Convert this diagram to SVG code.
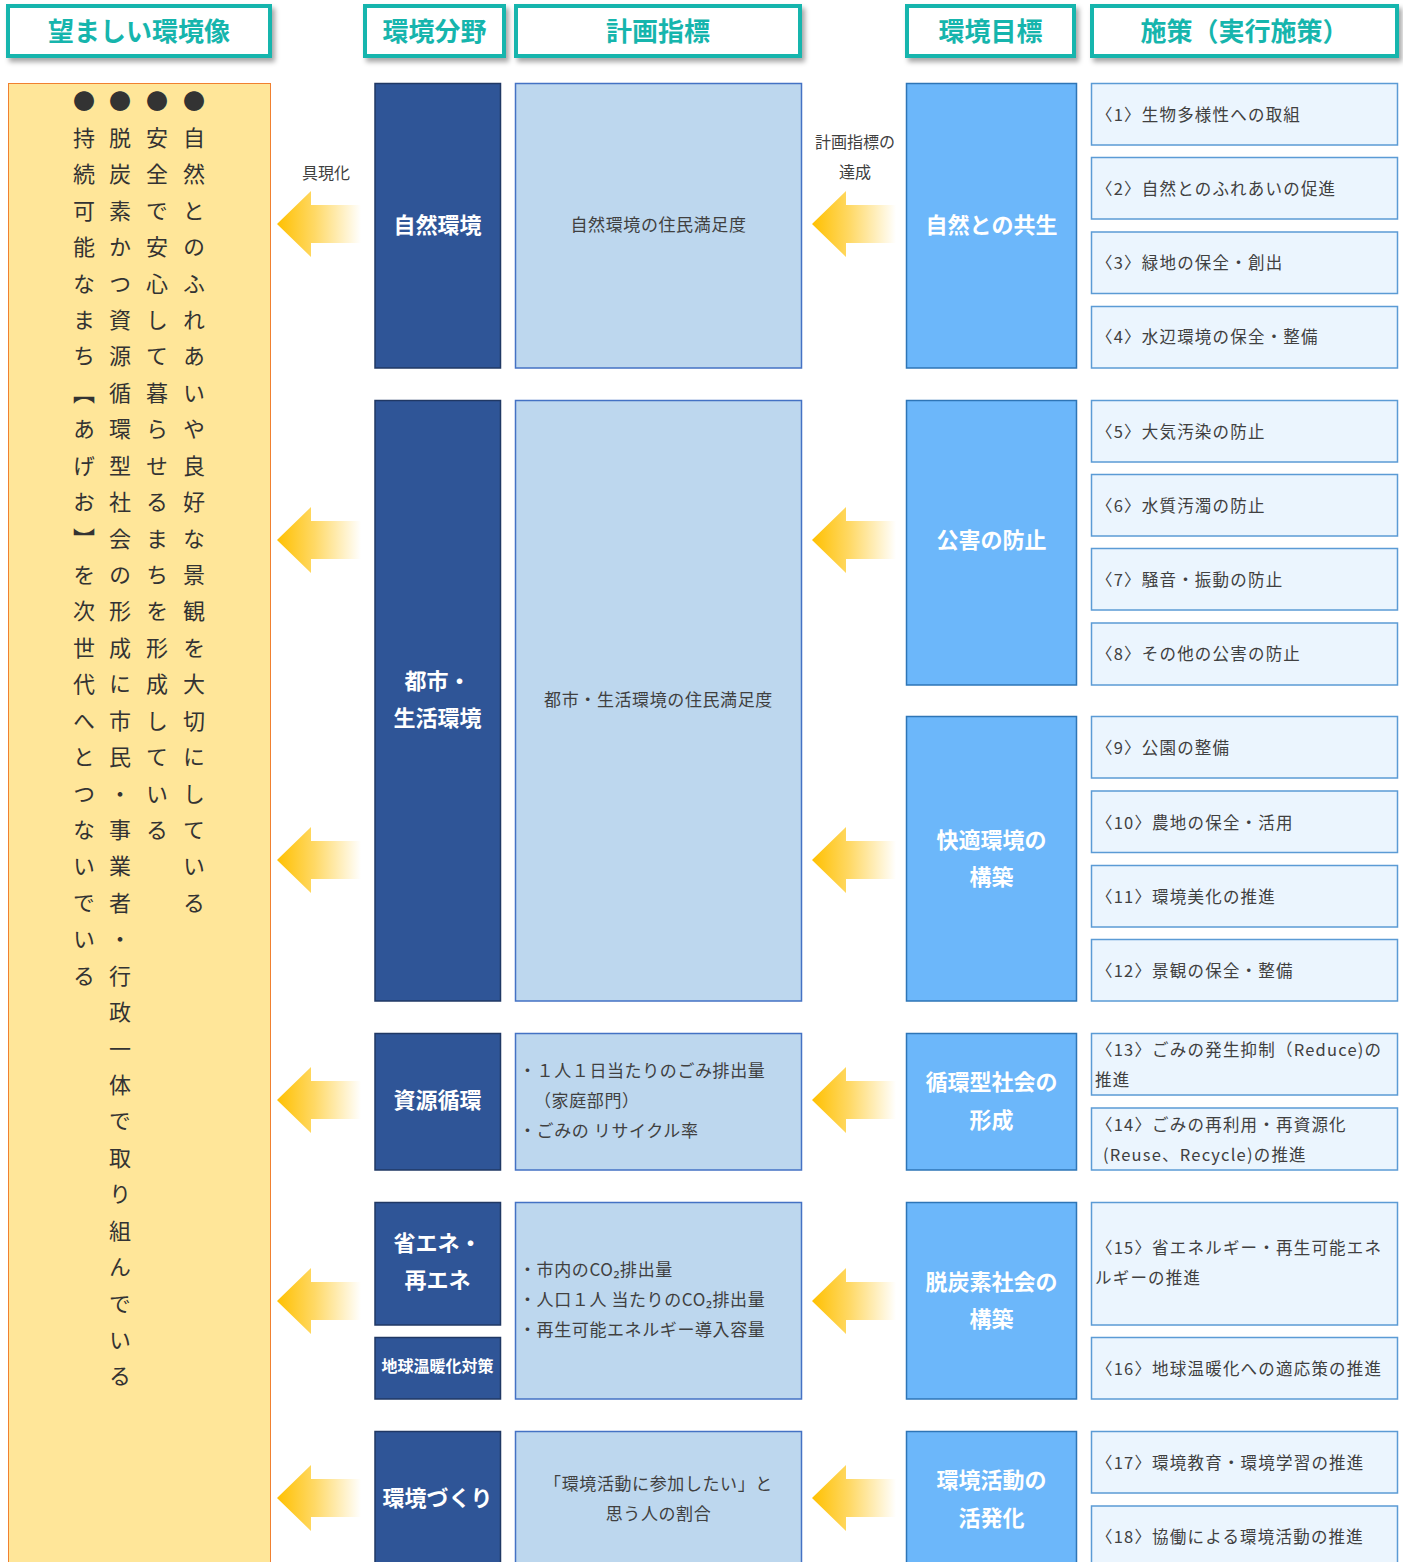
<svg xmlns="http://www.w3.org/2000/svg" width="1403" height="1562" viewBox="0 0 1403 1562">
<defs>
<filter id="sh" x="-10%" y="-20%" width="130%" height="170%">
<feDropShadow dx="3" dy="4" stdDeviation="2.5" flood-color="#000" flood-opacity="0.35"/>
</filter>
<linearGradient id="ag" x1="0" y1="0" x2="1" y2="0">
<stop offset="0" stop-color="#FFC000"/>
<stop offset="0.45" stop-color="#FFD966"/>
<stop offset="1" stop-color="#FFFFFF"/>
</linearGradient>
<path id="arrow" d="M0,0 L34,-33 L34,-19 L84,-19 L84,19 L34,19 L34,33 Z" fill="url(#ag)"/>
</defs>
<style>
text{font-family:"Noto Sans CJK JP","Noto Sans",sans-serif;dominant-baseline:central;}
.hd{fill:#fff;stroke:#16B5AD;stroke-width:4;filter:url(#sh);}
.ht{fill:#16B5AD;font-size:26px;font-weight:bold;text-anchor:middle;}
.c2{fill:#2F5597;stroke:#203864;stroke-width:1.5;}
.c2t{fill:#fff;font-size:22px;font-weight:bold;text-anchor:middle;}
.c3{fill:#BDD7EE;stroke:#4472C4;stroke-width:1.5;}
.c3t{fill:#404040;font-size:17px;letter-spacing:0.6px;}
.mid{text-anchor:middle;}
.c4{fill:#6CB7FA;stroke:#2E75B6;stroke-width:1.5;}
.c4t{fill:#fff;font-size:22px;font-weight:bold;text-anchor:middle;}
.c5{fill:#EBF5FE;stroke:#5B9BD5;stroke-width:1.5;}
.c5t{fill:#404040;font-size:16.5px;letter-spacing:1.2px;}
.lbl{fill:#404040;font-size:16px;text-anchor:middle;}
.ht,.c2t,.c3t,.c4t,.lbl{transform:translate(0px,-2px);}
.vt{fill:#333;font-size:22px;writing-mode:vertical-rl;letter-spacing:14.43px;dominant-baseline:auto;}
</style>
<rect width="1403" height="1562" fill="#fff"/>

<g id="headers">
<g id="h1"><rect class="hd" x="8" y="6" width="262" height="50"/><text class="ht" x="139" y="31">望ましい環境像</text></g>
<g id="h2"><rect class="hd" x="365" y="6" width="139" height="50"/><text class="ht" x="434.5" y="31">環境分野</text></g>
<g id="h3"><rect class="hd" x="516" y="6" width="284" height="50"/><text class="ht" x="658" y="31">計画指標</text></g>
<g id="h4"><rect class="hd" x="907" y="6" width="167" height="50"/><text class="ht" x="990.5" y="31">環境目標</text></g>
<g id="h5"><rect class="hd" x="1092" y="6" width="305" height="50"/><text class="ht" x="1244.5" y="31">施策（実行施策）</text></g>
</g>

<g id="vision">
<rect x="8.5" y="83.5" width="262" height="1500" fill="#FFE699" stroke="#F08030" stroke-width="1"/>
<text class="vt" x="194" y="90">●自然とのふれあいや良好な景観を大切にしている</text>
<text class="vt" x="157" y="90">●安全で安心して暮らせるまちを形成している</text>
<text class="vt" x="120" y="90">●脱炭素かつ資源循環型社会の形成に市民・事業者・行政一体で取り組んでいる</text>
<text class="vt" x="84" y="90">●持続可能なまち【あげお】を次世代へとつないでいる</text>
</g>

<g id="fields">
<g id="f1"><rect class="c2" x="375" y="83.5" width="125.5" height="284.5"/><text class="c2t" x="437.5" y="225">自然環境</text></g>
<g id="f2"><rect class="c2" x="375" y="400.5" width="125.5" height="600.5"/><text class="c2t" x="437.5" y="681">都市・</text><text class="c2t" x="437.5" y="718">生活環境</text></g>
<g id="f3"><rect class="c2" x="375" y="1033.5" width="125.5" height="136.5"/><text class="c2t" x="437.5" y="1100">資源循環</text></g>
<g id="f4"><rect class="c2" x="375" y="1202.5" width="125.5" height="122.5"/><text class="c2t" x="437.5" y="1243">省エネ・</text><text class="c2t" x="437.5" y="1280">再エネ</text></g>
<g id="f5"><rect class="c2" x="375" y="1337.5" width="125.5" height="61.5"/><text class="c2t" x="437.5" y="1367" style="font-size:16px">地球温暖化対策</text></g>
<g id="f6"><rect class="c2" x="375" y="1431.5" width="125.5" height="160"/><text class="c2t" x="437.5" y="1498">環境づくり</text></g>
</g>

<g id="indicators">
<g id="i1"><rect class="c3" x="515.5" y="83.5" width="286" height="284.5"/><text class="c3t mid" x="658.5" y="225">自然環境の住民満足度</text></g>
<g id="i2"><rect class="c3" x="515.5" y="400.5" width="286" height="600.5"/><text class="c3t mid" x="658.5" y="700">都市・生活環境の住民満足度</text></g>
<g id="i3"><rect class="c3" x="515.5" y="1033.5" width="286" height="136.5"/>
<text class="c3t" x="519" y="1071">・１人１日当たりのごみ排出量</text>
<text class="c3t" x="534" y="1101">（家庭部門）</text>
<text class="c3t" x="519" y="1131">・ごみの リサイクル率</text></g>
<g id="i4"><rect class="c3" x="515.5" y="1202.5" width="286" height="196.5"/>
<text class="c3t" x="519" y="1270">・市内のCO₂排出量</text>
<text class="c3t" x="519" y="1300">・人口１人 当たりのCO₂排出量</text>
<text class="c3t" x="519" y="1330">・再生可能エネルギー導入容量</text></g>
<g id="i5"><rect class="c3" x="515.5" y="1431.5" width="286" height="160"/>
<text class="c3t mid" x="658.5" y="1484">「環境活動に参加したい」と</text>
<text class="c3t mid" x="658.5" y="1514">思う人の割合</text></g>
</g>

<g id="goals">
<g id="g1"><rect class="c4" x="906.5" y="83.5" width="170" height="284.5"/><text class="c4t" x="991.5" y="225">自然との共生</text></g>
<g id="g2"><rect class="c4" x="906.5" y="400.5" width="170" height="284.5"/><text class="c4t" x="991.5" y="540">公害の防止</text></g>
<g id="g3"><rect class="c4" x="906.5" y="716.5" width="170" height="284.5"/><text class="c4t" x="991.5" y="840">快適環境の</text><text class="c4t" x="991.5" y="877">構築</text></g>
<g id="g4"><rect class="c4" x="906.5" y="1033.5" width="170" height="136.5"/><text class="c4t" x="991.5" y="1082">循環型社会の</text><text class="c4t" x="991.5" y="1120">形成</text></g>
<g id="g5"><rect class="c4" x="906.5" y="1202.5" width="170" height="196.5"/><text class="c4t" x="991.5" y="1282">脱炭素社会の</text><text class="c4t" x="991.5" y="1319">構築</text></g>
<g id="g6"><rect class="c4" x="906.5" y="1431.5" width="170" height="160"/><text class="c4t" x="991.5" y="1480">環境活動の</text><text class="c4t" x="991.5" y="1518">活発化</text></g>
</g>

<g id="measures">
<g id="m1"><rect class="c5" x="1091.5" y="83.5" width="306" height="61.5"/><text class="c5t" x="1096" y="114">〈1〉生物多様性への取組</text></g>
<g id="m2"><rect class="c5" x="1091.5" y="157.5" width="306" height="61.5"/><text class="c5t" x="1096" y="188">〈2〉自然とのふれあいの促進</text></g>
<g id="m3"><rect class="c5" x="1091.5" y="232" width="306" height="61.5"/><text class="c5t" x="1096" y="262">〈3〉緑地の保全・創出</text></g>
<g id="m4"><rect class="c5" x="1091.5" y="306.5" width="306" height="61.5"/><text class="c5t" x="1096" y="336">〈4〉水辺環境の保全・整備</text></g>
<g id="m5"><rect class="c5" x="1091.5" y="400.5" width="306" height="61.5"/><text class="c5t" x="1096" y="431">〈5〉大気汚染の防止</text></g>
<g id="m6"><rect class="c5" x="1091.5" y="474.5" width="306" height="61.5"/><text class="c5t" x="1096" y="505">〈6〉水質汚濁の防止</text></g>
<g id="m7"><rect class="c5" x="1091.5" y="548.5" width="306" height="61.5"/><text class="c5t" x="1096" y="579">〈7〉騒音・振動の防止</text></g>
<g id="m8"><rect class="c5" x="1091.5" y="623" width="306" height="62"/><text class="c5t" x="1096" y="653">〈8〉その他の公害の防止</text></g>
<g id="m9"><rect class="c5" x="1091.5" y="716.5" width="306" height="61.5"/><text class="c5t" x="1096" y="747">〈9〉公園の整備</text></g>
<g id="m10"><rect class="c5" x="1091.5" y="791" width="306" height="61.5"/><text class="c5t" x="1096" y="822">〈10〉農地の保全・活用</text></g>
<g id="m11"><rect class="c5" x="1091.5" y="865.5" width="306" height="61.5"/><text class="c5t" x="1096" y="896">〈11〉環境美化の推進</text></g>
<g id="m12"><rect class="c5" x="1091.5" y="939.5" width="306" height="61.5"/><text class="c5t" x="1096" y="970">〈12〉景観の保全・整備</text></g>
<g id="m13"><rect class="c5" x="1091.5" y="1033.5" width="306" height="61.5"/><text class="c5t" x="1096" y="1049">〈13〉ごみの発生抑制（Reduce)の</text><text class="c5t" x="1095" y="1079">推進</text></g>
<g id="m14"><rect class="c5" x="1091.5" y="1108" width="306" height="62"/><text class="c5t" x="1096" y="1124">〈14〉ごみの再利用・再資源化</text><text class="c5t" x="1103" y="1154">(Reuse、Recycle)の推進</text></g>
<g id="m15"><rect class="c5" x="1091.5" y="1202.5" width="306" height="122.5"/><text class="c5t" x="1096" y="1247">〈15〉省エネルギー・再生可能エネ</text><text class="c5t" x="1095" y="1277">ルギーの推進</text></g>
<g id="m16"><rect class="c5" x="1091.5" y="1337.5" width="306" height="61.5"/><text class="c5t" x="1096" y="1368">〈16〉地球温暖化への適応策の推進</text></g>
<g id="m17"><rect class="c5" x="1091.5" y="1431.5" width="306" height="61.5"/><text class="c5t" x="1096" y="1462">〈17〉環境教育・環境学習の推進</text></g>
<g id="m18"><rect class="c5" x="1091.5" y="1506" width="306" height="80"/><text class="c5t" x="1096" y="1536">〈18〉協働による環境活動の推進</text></g>
</g>

<g id="connectors">
<use href="#arrow" x="277" y="224"/>
<use href="#arrow" x="277" y="540"/>
<use href="#arrow" x="277" y="860"/>
<use href="#arrow" x="277" y="1100"/>
<use href="#arrow" x="277" y="1301"/>
<use href="#arrow" x="277" y="1498"/>
<use href="#arrow" x="812" y="224"/>
<use href="#arrow" x="812" y="540"/>
<use href="#arrow" x="812" y="860"/>
<use href="#arrow" x="812" y="1100"/>
<use href="#arrow" x="812" y="1301"/>
<use href="#arrow" x="812" y="1498"/>
<text class="lbl" x="326" y="174">具現化</text>
<text class="lbl" x="855" y="143">計画指標の</text>
<text class="lbl" x="855" y="173">達成</text>
</g>
</svg>
